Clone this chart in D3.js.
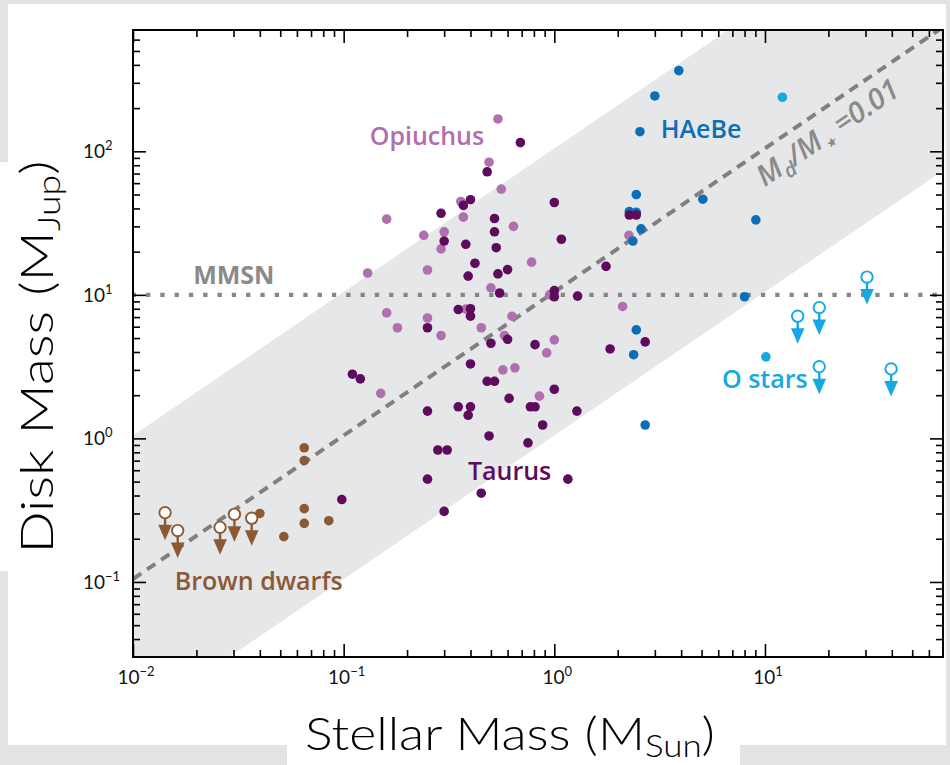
<!DOCTYPE html>
<html>
<head>
<meta charset="utf-8">
<script src="https://cdn.jsdelivr.net/npm/d3@7"></script>
<style>
  body { margin: 0; background: #ffffff; }
  svg { display: block; }
</style>
</head>
<body>
<svg id="chart" width="950" height="765"></svg>
<script>
// ---- Data: stellar mass (M_sun) vs. disk mass (M_Jup) ----
const taurusMstar = [0.69, 0.48, 0.40, 0.37, 0.29, 1.0, 0.52, 0.52, 0.30, 0.38, 0.53, 1.08, 0.42, 0.39, 0.54, 0.60, 0.55, 1.0, 1.0, 1.29,
                     0.35, 0.40, 0.40, 0.25, 0.50, 0.60, 0.81, 0.40, 0.11, 0.12, 0.48, 0.52, 1.0, 0.61, 0.25, 0.35, 0.40, 0.39, 0.77, 0.81,
                     1.28, 0.88, 0.49, 0.75, 0.28, 0.31, 0.25, 1.16, 0.45, 0.098, 0.30, 2.7, 1.84, 1.76, 2.27, 2.45];
const taurusMdisk = [115, 72, 46, 42, 37, 44, 34, 27.5, 23.7, 22.5, 21.3, 24.4, 16.6, 13.5, 14, 15, 10.3, 10.7, 9.7, 9.8,
                     7.9, 8.0, 7.1, 5.9, 4.6, 4.9, 4.5, 3.3, 2.8, 2.6, 2.5, 2.5, 2.2, 1.9, 1.55, 1.66, 1.66, 1.45, 1.66, 1.66,
                     1.55, 1.24, 1.04, 0.93, 0.83, 0.83, 0.52, 0.52, 0.415, 0.375, 0.31, 4.7, 4.2, 15.8, 36, 36];

const ophMstar = [0.54, 0.49, 0.56, 0.36, 0.16, 0.37, 0.64, 0.24, 0.30, 0.29, 0.78, 0.13, 0.25, 0.50, 0.16, 0.25, 0.63, 0.95, 0.38, 0.18,
                  0.29, 0.45, 0.58, 1.0, 0.92, 0.57, 0.65, 0.15, 0.85, 2.11, 2.26];
const ophMdisk = [168, 84, 54.5, 44.7, 33.7, 34.8, 30, 26, 27.5, 20.9, 16.9, 14.2, 14.9, 11.2, 7.5, 6.9, 7.1, 10, 7.95, 5.9,
                  5.2, 5.9, 5.2, 4.86, 3.94, 3.0, 3.1, 2.06, 1.97, 8.3, 26];

const haebeMstar = [3.9, 3.0, 2.55, 2.45, 2.27, 2.45, 2.58, 2.36, 5.07, 9.05, 8.0, 2.45, 2.38, 2.7];
const haebeMdisk = [365, 243, 137, 50, 38, 37.6, 28.8, 23.7, 46.4, 33.3, 9.7, 5.7, 3.83, 1.24];

const oStarMstar = [12.1, 10.1];
const oStarMdisk = [238, 3.7];
const oStarLimitMstar = [30.5, 14.3, 18.1, 18.1, 39.7];
const oStarLimitMdisk = [13.3, 7.1, 8.15, 3.16, 3.05];

const bdMstar = [0.040, 0.052, 0.065, 0.065, 0.085, 0.065, 0.065];
const bdMdisk = [0.30, 0.207, 0.324, 0.256, 0.267, 0.86, 0.70];
const bdLimitMstar = [0.0142, 0.0163, 0.0259, 0.0303, 0.0366];
const bdLimitMdisk = [0.304, 0.228, 0.24, 0.296, 0.278];

// Reference relations
const diskToStarRatio = 0.01;   // M_d / M_star
const mSunInMJup = 1047.6;      // 1 M_sun expressed in Jupiter masses
const bandFactor = 10;          // shaded band spans one decade either side
const mmsnMass = 10;            // minimum-mass solar nebula, M_Jup

// Axes
const xDomain = [0.01, 70];
const yDomain = [0.03, 700];
const xMajor = [0.01, 0.1, 1, 10];
const xMajorExp = ["\u22122", "\u22121", "0", "1"];
const yMajor = [0.1, 1, 10, 100];
const yMajorExp = ["\u22121", "0", "1", "2"];

// Group labels: text, anchor stellar mass, anchor disk mass
const groupLabels = [
  { text: "Opiuchus",     m: 0.133,  d: 111,   color: "#b06fae" },
  { text: "HAeBe",        m: 3.2,    d: 124,   color: "#0b6fb7" },
  { text: "Taurus",       m: 0.389,  d: 0.514, color: "#5e0b5d" },
  { text: "O stars",      m: 6.25,   d: 2.25,  color: "#15a8e3" },
  { text: "Brown dwarfs", m: 0.0158, d: 0.088, color: "#8b5a35" }
];

const colors = {
  taurus: "#5e0b5d",
  oph: "#b06fae",
  haebe: "#0b6fb7",
  ostar: "#15a8e3",
  bd: "#8b5a35",
  band: "#e6e7e8",
  guide: "#878787"
};

// ---- Drawing ----
const svg = d3.select("#chart");
const plotLeft = 133, plotRight = 943, plotTop = 30, plotBottom = 657;

// page backdrop
svg.append("rect").attr("width", 950).attr("height", 765).attr("fill", "#e3e3e3");
[[8, 4, 938, 741], [0, 162, 8, 409], [287, 745, 453, 20]].forEach(r => {
  svg.append("rect").attr("x", r[0]).attr("y", r[1]).attr("width", r[2]).attr("height", r[3]).attr("fill", "#ffffff");
});

const x = d3.scaleLog().domain(xDomain).range([plotLeft, plotRight]);
const y = d3.scaleLog().domain(yDomain).range([plotBottom, plotTop]);

svg.append("defs").append("clipPath").attr("id", "plot-clip")
  .append("rect").attr("x", plotLeft).attr("y", plotTop)
  .attr("width", plotRight - plotLeft).attr("height", plotBottom - plotTop);

const plot = svg.append("g").attr("clip-path", "url(#plot-clip)");
const diskFromStar = m => diskToStarRatio * mSunInMJup * m;
const line = d3.line().x(d => x(d[0])).y(d => y(d[1]));

// shaded band around M_d/M_* = 0.01
const band = [
  [xDomain[0], diskFromStar(xDomain[0]) * bandFactor],
  [xDomain[1], diskFromStar(xDomain[1]) * bandFactor],
  [xDomain[1], diskFromStar(xDomain[1]) / bandFactor],
  [xDomain[0], diskFromStar(xDomain[0]) / bandFactor]
];
plot.append("path").attr("d", line(band) + "Z").attr("fill", colors.band);

// MMSN dotted line
plot.append("path")
  .attr("d", line([[xDomain[0], mmsnMass], [xDomain[1], mmsnMass]]))
  .attr("stroke", colors.guide).attr("stroke-width", 4.3)
  .attr("stroke-dasharray", "4.3,10").attr("stroke-dashoffset", -13)
  .attr("fill", "none");

// M_d/M_* = 0.01 dashed line
plot.append("path")
  .attr("d", line([[xDomain[0], diskFromStar(xDomain[0])], [xDomain[1], diskFromStar(xDomain[1])]]))
  .attr("stroke", "#808080").attr("stroke-width", 4)
  .attr("stroke-dasharray", "10,7").attr("fill", "none");

// filled detections
function dots(ms, ds, color) {
  plot.append("g").selectAll("circle")
    .data(ms.map((m, i) => [m, ds[i]]))
    .join("circle")
    .attr("cx", d => x(d[0])).attr("cy", d => y(d[1]))
    .attr("r", 4.8).attr("fill", color);
}
dots(ophMstar, ophMdisk, colors.oph);
dots(haebeMstar, haebeMdisk, colors.haebe);
dots(oStarMstar, oStarMdisk, colors.ostar);
dots(taurusMstar, taurusMdisk, colors.taurus);
dots(bdMstar, bdMdisk, colors.bd);

// upper limits: open circle with downward arrow
function limits(ms, ds, color) {
  const g = plot.append("g").selectAll("g")
    .data(ms.map((m, i) => [m, ds[i]]))
    .join("g")
    .attr("transform", d => `translate(${x(d[0])},${y(d[1])})`);
  g.append("line").attr("x1", 0).attr("x2", 0).attr("y1", 5).attr("y2", 15)
    .attr("stroke", color).attr("stroke-width", 2.4);
  g.append("path").attr("d", "M-6.8,12 L6.8,12 L0,27.5 Z").attr("fill", color);
  g.append("circle").attr("r", 5.7).attr("fill", "#ffffff")
    .attr("stroke", color).attr("stroke-width", 1.9);
}
limits(oStarLimitMstar, oStarLimitMdisk, colors.ostar);
limits(bdLimitMstar, bdLimitMdisk, colors.bd);

// frame
svg.append("rect").attr("x", plotLeft).attr("y", plotTop)
  .attr("width", plotRight - plotLeft).attr("height", plotBottom - plotTop)
  .attr("fill", "none").attr("stroke", "#000").attr("stroke-width", 2);

// minor tick values per decade
const minorTicks = (dom) => {
  const out = [];
  for (let e = Math.floor(Math.log10(dom[0])); e <= Math.ceil(Math.log10(dom[1])); e++) {
    for (let k = 2; k < 10; k++) {
      const v = +(k * Math.pow(10, e)).toPrecision(3);
      if (v > dom[0] && v < dom[1]) out.push(v);
    }
  }
  return out;
};
const xMinor = minorTicks(xDomain);
const yMinor = minorTicks(yDomain);

function tickAxis(axis, transform) {
  const g = svg.append("g").attr("transform", transform).call(axis);
  g.select(".domain").remove();
  g.selectAll(".tick line").attr("stroke", "#000").attr("stroke-width", 1.6);
  g.selectAll(".tick text").remove();
}
tickAxis(d3.axisBottom(x).tickValues(xMajor).tickSize(-13), `translate(0,${plotBottom})`);
tickAxis(d3.axisBottom(x).tickValues(xMinor).tickSize(-7), `translate(0,${plotBottom})`);
tickAxis(d3.axisTop(x).tickValues(xMajor).tickSize(-13), `translate(0,${plotTop})`);
tickAxis(d3.axisTop(x).tickValues(xMinor).tickSize(-7), `translate(0,${plotTop})`);
tickAxis(d3.axisLeft(y).tickValues(yMajor).tickSize(-13), `translate(${plotLeft},0)`);
tickAxis(d3.axisLeft(y).tickValues(yMinor).tickSize(-7), `translate(${plotLeft},0)`);
tickAxis(d3.axisRight(y).tickValues(yMajor).tickSize(-13), `translate(${plotRight},0)`);
tickAxis(d3.axisRight(y).tickValues(yMinor).tickSize(-7), `translate(${plotRight},0)`);

// tick labels with superscript exponents
const tickFont = "Lato, 'DejaVu Sans', sans-serif";
xMajor.forEach((v, i) => {
  const t = svg.append("text").attr("x", x(v) + 3).attr("y", plotBottom + 27)
    .attr("text-anchor", "middle").attr("font-family", tickFont).attr("font-size", 19).attr("fill", "#111");
  t.append("tspan").text("10");
  t.append("tspan").attr("dy", -8).attr("font-size", 13).text(xMajorExp[i]);
});
yMajor.forEach((v, i) => {
  const t = svg.append("text").attr("x", 83).attr("y", y(v) + 7)
    .attr("text-anchor", "start").attr("font-family", tickFont).attr("font-size", 19).attr("fill", "#111");
  t.append("tspan").text("10");
  t.append("tspan").attr("dy", -8).attr("font-size", 13).text(yMajorExp[i]);
});

// group labels
const labelFont = "'Open Sans', 'Noto Sans', sans-serif";
groupLabels.forEach(l => {
  svg.append("text").attr("x", x(l.m)).attr("y", y(l.d))
    .attr("font-family", labelFont).attr("font-weight", 600).attr("font-size", 25)
    .attr("fill", l.color).text(l.text);
});

// MMSN label
svg.append("text").attr("x", x(0.0193)).attr("y", y(11.9))
  .attr("font-family", labelFont).attr("font-weight", 700).attr("font-size", 25)
  .attr("fill", "#8a8a8a").text("MMSN");

// ratio label, rotated along the dashed line
const labelStar = 20;
const angle = Math.atan2(y(diskFromStar(1)) - y(diskFromStar(10)), x(10) - x(1)) * 180 / Math.PI;
const rl = svg.append("g")
  .attr("transform", `translate(${x(labelStar)},${y(diskFromStar(labelStar))}) rotate(${-angle})`)
  .append("text").attr("x", -16).attr("y", 32).attr("text-anchor", "middle")
  .attr("font-family", labelFont).attr("font-style", "italic").attr("font-weight", 600)
  .attr("font-size", 29).attr("fill", "#8a8a8a");
rl.append("tspan").text("M");
rl.append("tspan").attr("dy", 7).attr("font-size", 20).text("d");
rl.append("tspan").attr("dy", -7).text("/M");
rl.append("tspan").attr("dy", 7).attr("font-size", 20).text("\u22c6");
rl.append("tspan").attr("dy", -7).text(" =0.01");

// axis titles, stretched horizontally to a wide geometric proportion
const titleFont = "Lato, 'DejaVu Sans', sans-serif";
function title(g, parts, targetWidth) {
  const t = g.append("text").attr("text-anchor", "middle")
    .attr("font-family", titleFont).attr("font-weight", 300).attr("font-size", 46).attr("fill", "#000");
  t.append("tspan").text(parts[0]);
  t.append("tspan").attr("dy", 7).attr("font-size", 31).text(parts[1]);
  t.append("tspan").attr("dy", -7).text(parts[2]);
  const w = t.node().getComputedTextLength();
  t.attr("transform", `scale(${targetWidth / w},1)`);
}
title(svg.append("g").attr("transform", "translate(510,750)"), ["Stellar Mass (M", "Sun", ")"], 410);
title(svg.append("g").attr("transform", "translate(53,357) rotate(-90)"), ["Disk Mass (M", "Jup", ")"], 393);
</script>
</body>
</html>
